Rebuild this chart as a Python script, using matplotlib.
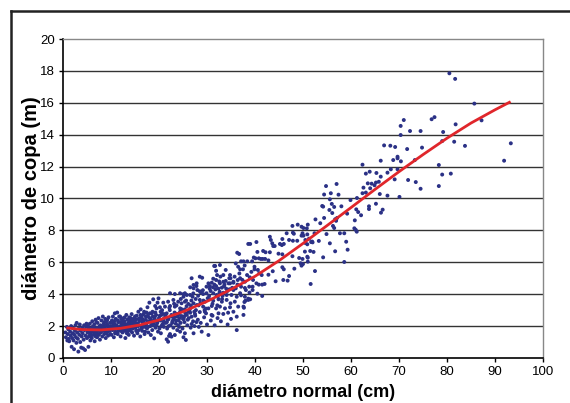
import matplotlib
matplotlib.use('Agg')
import matplotlib.pyplot as plt
from matplotlib.lines import Line2D

# diámetro normal (cm) / diámetro de copa (m)
dn_a = [0.5, 0.6, 0.8, 0.9, 1.0, 1.1, 1.2, 1.3, 1.5, 1.6, 1.7, 1.8, 1.9, 2.0, 2.1, 2.2, 2.3, 2.4, 2.5, 2.6,
        2.7, 2.8, 2.85, 3.0, 3.1, 3.2, 3.3, 3.4, 3.5, 3.6, 3.7, 3.8, 3.9, 4.0, 4.1, 4.2, 4.3, 4.4, 4.5, 4.6,
        4.7, 4.8, 4.9, 5.0]
dc_a = [1.6, 1.3, 1.95, 1.1, 1.5, 1.8, 1.2, 1.05, 1.65, 1.4, 2.0, 0.7, 1.25, 1.55, 1.85, 1.1, 0.55, 1.45, 1.7, 2.05,
        1.3, 0.95, 2.2, 1.6, 1.2, 0.4, 1.85, 1.45, 2.1, 1.0, 1.7, 0.65, 1.35, 1.9, 1.55, 0.6, 1.15, 2.05, 1.75, 0.5,
        1.4, 1.95, 2.15, 1.25]

dn_b = [5.1, 5.2, 5.3, 5.4, 5.5, 5.6, 5.7, 5.8, 5.9, 6.0, 6.1, 6.2, 6.3, 6.4, 6.5, 6.6, 6.7, 6.8, 6.9, 7.0,
        7.1, 7.2, 7.3, 7.4, 7.5, 7.6, 7.7, 7.8, 7.9, 8.0, 8.1, 8.2, 8.3, 8.4, 8.5, 8.6, 8.7, 8.8, 8.9, 9.0,
        9.1, 9.2, 9.3, 9.4, 9.5, 9.6, 9.7, 9.8, 9.9, 10.0, 5.5, 6.3, 7.0, 7.6, 8.2, 8.8, 9.4, 6.8, 8.6]
dc_b = [1.6, 2.0, 0.7, 1.35, 1.85, 2.15, 1.1, 1.5, 1.75, 1.25, 2.3, 1.65, 1.95, 1.45, 2.1, 1.05, 1.8, 2.4, 1.55, 1.9,
        1.3, 2.2, 1.7, 2.5, 1.45, 1.95, 1.15, 2.05, 1.6, 2.35, 1.85, 1.35, 2.6, 1.75, 2.15, 1.5, 1.95, 2.45, 1.25, 1.8,
        2.3, 1.6, 2.05, 1.4, 2.55, 1.9, 1.7, 2.2, 1.5, 2.0, 1.55, 1.7, 1.6, 1.8, 1.9, 1.65, 1.85, 1.35, 2.25]

dn_c = [10.1, 10.2, 10.3, 10.4, 10.5, 10.6, 10.7, 10.8, 10.9, 11.0, 11.1, 11.2, 11.3, 11.4, 11.5, 11.6, 11.7,
        11.8, 11.9, 12.0, 12.1, 12.2, 12.3, 12.4, 12.5, 12.6, 12.7, 12.8, 12.9, 13.0, 13.1, 13.2, 13.3, 13.4,
        13.5, 13.6, 13.7, 13.8, 13.9, 14.0, 14.1, 14.2, 14.3, 14.4, 14.5, 14.6, 14.7, 14.8, 14.9, 15.0,
        10.5, 11.3, 12.2, 13.0, 13.8, 14.6]
dc_c = [1.45, 2.35, 1.75, 2.6, 1.95, 1.3, 2.15, 2.8, 1.65, 2.45, 1.85, 2.05, 2.85, 1.5, 2.25, 1.75, 2.6,
        1.95, 2.6, 1.35, 2.15, 1.8, 2.4, 1.6, 2.0, 2.5, 1.7, 2.3, 1.9, 1.25, 2.1, 2.7, 1.55, 2.4,
        1.85, 2.2, 1.45, 2.55, 1.95, 2.35, 1.7, 2.0, 2.75, 1.6, 2.25, 1.85, 2.45, 1.4, 2.1, 2.6,
        2.05, 1.6, 2.25, 1.95, 1.75, 2.15]

dn_d = [15.1, 15.2, 15.35, 15.5, 15.6, 15.7, 15.8, 15.9, 16.0, 16.1, 16.2, 16.3, 16.4, 16.5, 16.6, 16.7, 16.8,
        16.9, 17.0, 17.1, 17.2, 17.3, 17.4, 17.5, 17.6, 17.7, 17.8, 17.9, 18.0, 18.1, 18.2, 18.3, 18.4, 18.5,
        18.6, 18.7, 18.8, 18.9, 19.0, 19.1, 19.2, 19.3, 19.4, 19.5, 19.6, 19.7, 19.8, 19.9, 20.0,
        16.5, 17.5, 18.5, 19.5]
dc_d = [1.9, 2.4, 2.65, 1.55, 2.15, 2.9, 1.75, 2.3, 2.5, 1.35, 3.05, 2.0, 2.6, 1.7, 2.25, 1.95, 2.75,
        2.9, 1.5, 1.65, 2.4, 2.1, 2.85, 1.85, 3.18, 2.3, 1.6, 2.55, 3.47, 2.8, 2.0, 1.44, 2.35, 2.8,
        1.75, 2.6, 3.68, 2.15, 1.23, 2.45, 3.26, 1.9, 2.7, 3.11, 2.25, 3.47, 1.65, 3.74, 2.5,
        2.45, 2.2, 2.1, 2.05]

dn_e = [20.1, 20.2, 20.3, 20.4, 20.5, 20.6, 20.7, 20.9, 21.0, 21.1, 21.25, 21.4, 21.6, 21.6, 21.7, 21.9, 21.9,
        22.0, 22.1, 22.3, 22.3, 22.3, 22.4, 22.6, 22.6, 22.8, 23.0, 23.0, 23.2, 23.3, 23.3, 23.3, 23.5, 23.7,
        23.8, 24.0, 24.1, 24.2, 24.4, 24.4, 24.4, 24.4, 24.5, 24.7, 24.7, 24.9, 25.0, 21.0, 22.0, 23.0, 24.0,
        20.5, 23.8]
dc_e = [1.85, 3.18, 2.35, 1.55, 2.7, 2.84, 2.1, 3.47, 1.95, 2.5, 3.22, 2.2, 1.17, 2.8, 1.85, 3.53, 1.02,
        2.45, 1.38, 4.06, 3.26, 1.5, 2.05, 2.7, 1.34, 2.3, 3.64, 1.9, 2.55, 4.01, 3.22, 1.44, 2.15, 2.76,
        1.75, 3.53, 2.35, 1.95, 1.65, 3.11, 2.9, 4.06, 2.2, 2.63, 3.43, 1.85, 2.45, 2.3, 2.0, 2.4, 2.05,
        2.0, 2.6]

dn_f = [25.1, 25.1, 25.1, 25.3, 25.4, 25.4, 25.4, 25.4, 25.5, 25.6, 25.8, 25.8, 25.9, 26.1, 26.2, 26.5, 26.5,
        26.5, 26.5, 26.6, 26.8, 26.8, 26.8, 27.0, 27.1, 27.2, 27.2, 27.2, 27.2, 27.4, 27.5, 27.7, 27.8, 27.85,
        27.9, 28.0, 28.1, 28.3, 28.5, 28.5, 28.5, 28.5, 28.7, 28.9, 29.0, 29.2, 29.2, 29.4, 29.6, 29.8, 29.9,
        29.9, 30.0, 26.0, 27.8, 29.5]
dc_f = [4.01, 1.3, 3.84, 2.25, 3.05, 4.06, 1.55, 3.53, 2.8, 1.13, 2.7, 3.95, 2.05, 3.39, 2.5, 3.11, 4.43,
        2.84, 3.95, 1.9, 2.59, 5.0, 2.13, 3.84, 2.3, 4.58, 4.37, 3.43, 1.55, 2.0, 2.76, 3.0, 4.51, 4.68,
        3.32, 4.26, 2.4, 1.95, 5.1, 4.18, 3.64, 2.88, 2.2, 1.65, 5.03, 4.01, 3.22, 2.55, 3.53, 2.8, 4.47,
        4.06, 2.1, 2.4, 2.25, 3.0]

dn_g = [30.3, 30.3, 30.3, 30.6, 30.6, 30.8, 30.95, 31.0, 31.0, 31.25, 31.3, 31.3, 31.3, 31.5, 31.6, 31.7, 31.9,
        31.9, 31.9, 31.9, 32.0, 32.1, 32.2, 32.4, 32.4, 32.4, 32.6, 32.7, 32.7, 32.7, 32.8, 32.9, 33.1, 33.1,
        33.4, 33.4, 33.4, 33.4, 33.75, 33.9, 33.9, 34.0, 34.1, 34.1, 34.3, 34.4, 34.5, 34.7, 34.8, 34.8, 34.8,
        34.9, 34.9, 35.0]
dc_g = [1.44, 4.68, 3.11, 4.51, 3.68, 2.35, 2.7, 4.72, 3.26, 4.43, 4.97, 4.06, 3.59, 5.77, 2.05, 5.77, 5.47,
        4.89, 4.51, 3.11, 3.95, 5.2, 2.5, 4.35, 3.68, 2.8, 4.06, 5.83, 4.68, 3.22, 5.1, 2.3, 4.41, 3.53,
        5.2, 4.78, 4.09, 2.76, 3.11, 5.52, 4.83, 4.35, 3.95, 3.64, 2.1, 2.84, 4.68, 4.31, 5.2, 4.68, 3.18,
        5.0, 3.43, 2.45]

dn_h = [35.1, 35.5, 35.5, 35.5, 35.5, 35.8, 36.0, 36.0, 36.2, 36.2, 36.2, 36.3, 36.4, 36.5, 36.5, 36.7, 36.9,
        36.9, 36.9, 37.1, 37.1, 37.1, 37.5, 37.6, 37.6, 37.6, 37.7, 37.8, 37.9, 37.9, 37.9, 38.0, 38.1, 38.4,
        38.6, 38.6, 38.6, 38.8, 38.9, 39.0, 39.0, 39.4, 39.5, 39.5, 39.6, 39.9, 39.9]
dc_h = [3.95, 4.72, 4.78, 4.26, 2.9, 3.53, 5.93, 4.37, 2.59, 3.84, 1.75, 6.6, 4.89, 5.72, 3.22, 6.52, 5.56,
        5.0, 4.06, 6.06, 4.47, 3.93, 5.56, 6.06, 3.22, 2.7, 3.15, 3.51, 4.78, 4.39, 3.84, 3.59, 4.26, 6.06,
        7.15, 3.72, 3.64, 4.47, 5.06, 3.68, 7.15, 6.06, 4.47, 4.26, 4.89, 5.72, 5.56]

dn_i = [40.1, 40.3, 40.3, 40.5, 40.5, 40.6, 40.8, 40.8, 40.9, 41.2, 41.4, 41.5, 41.5, 41.6, 41.7, 42.0, 42.1,
        42.2, 42.8, 42.8, 43.1, 43.1, 43.3, 43.6, 43.7, 43.8, 44.1, 44.3, 44.9, 45.2, 45.6, 45.7, 45.7, 45.7,
        45.9, 46.0, 46.0, 46.6, 46.8, 47.1, 47.1, 47.8, 47.8, 47.9, 47.9, 48.1, 48.2, 48.8, 48.9, 49.2, 49.5,
        49.7, 49.7, 49.7, 49.9, 49.9, 50.0]
dc_i = [6.25, 7.27, 4.68, 6.65, 4.03, 5.52, 6.25, 4.6, 5.31, 6.21, 5.2, 4.6, 3.89, 6.21, 6.71, 4.64, 6.21,
        6.63, 6.12, 5.22, 7.6, 6.63, 7.4, 7.19, 5.44, 7.02, 7.02, 4.81, 6.54, 7.15, 7.08, 7.46, 6.5, 5.69,
        4.89, 7.15, 5.56, 7.82, 4.85, 7.4, 5.14, 8.28, 6.38, 7.35, 7.86, 7.79, 5.6, 7.35, 8.36, 6.27, 5.94,
        8.23, 7.67, 5.79, 7.82, 6.21, 5.89]

dn_j = [50.1, 50.1, 50.4, 50.5, 50.5, 50.8, 50.9, 50.9, 50.9, 51.0, 51.0, 51.0, 51.25, 51.5, 51.6, 51.7, 51.9,
        52.0, 52.2, 52.4, 52.5, 52.6, 53.3, 53.6, 54.0, 54.2, 54.2, 54.4, 54.4, 54.8, 54.9, 55.5, 55.6, 55.6,
        55.8, 56.0, 56.1, 56.25, 56.5, 56.5, 56.7, 56.7, 56.9, 57.0, 57.1, 57.4, 57.7, 58.0, 58.6, 58.6, 59.0,
        59.2, 59.3, 59.9]
dc_j = [8.15, 7.67, 6.67, 7.21, 7.4, 8.13, 7.75, 7.13, 6.35, 8.36, 6.04, 6.29, 7.48, 6.71, 4.64, 7.27, 7.3,
        7.25, 6.65, 7.82, 5.45, 8.69, 7.34, 8.45, 9.53, 9.49, 6.31, 10.25, 8.78, 10.78, 7.77, 9.28, 9.95, 7.19,
        10.33, 9.66, 9.09, 8.28, 9.47, 8.15, 8.7, 6.69, 8.6, 10.91, 8.78, 10.24, 7.82, 9.51, 7.82, 6.02, 7.29,
        9.05, 6.79, 9.9]

dn_k = [60.7, 60.8, 61.0, 61.1, 61.2, 61.25, 61.5, 62.1, 62.4, 62.4, 62.6, 63.1, 63.1, 63.5, 63.75, 63.75, 63.9,
        64.0, 64.3, 64.9, 65.2, 65.2, 65.3, 65.8, 66.0, 66.2, 66.2, 66.25, 66.6, 66.9, 67.6, 67.6, 68.2, 68.3,
        68.8, 69.1, 69.2, 69.7, 69.7, 69.7, 70.1, 70.35, 70.35, 70.4, 71.0, 71.7, 71.9, 72.3, 73.3, 73.5, 74.5,
        74.5, 74.8, 76.8, 77.4, 78.3, 78.3, 79.0, 79.0, 79.2, 80.5, 80.8, 81.5, 81.7, 81.8, 83.75, 85.7, 87.2,
        91.9, 93.3]
dc_k = [8.13, 8.63, 8.03, 9.32, 7.92, 10.03, 9.15, 8.95, 12.12, 10.33, 10.68, 11.56, 10.37, 10.95, 9.51, 9.34, 11.68,
        10.64, 10.93, 10.83, 11.0, 9.67, 11.6, 11.05, 10.28, 12.37, 11.37, 9.11, 9.3, 13.33, 11.62, 10.18, 13.31, 11.83,
        12.41, 11.2, 13.23, 12.62, 12.52, 11.83, 10.1, 14.55, 13.98, 12.33, 14.92, 13.1, 11.16, 14.23, 12.41, 11.03, 14.23,
        10.61, 13.19, 14.97, 15.1, 12.1, 10.78, 13.6, 11.5, 14.17, 17.85, 11.56, 13.56, 17.5, 14.65, 13.3, 15.95, 14.9,
        12.37, 13.46]

# puntos extra de la nube densa (5-40 cm)
dn_m = [5.35, 5.85, 6.45, 6.95, 7.25, 7.85, 8.45, 8.95, 9.25, 9.75, 10.35, 10.85, 11.45, 11.95, 12.35, 12.85,
        13.45, 13.95, 14.25, 14.75, 15.25, 15.75, 16.35, 16.85, 17.25, 17.75, 18.25, 18.75, 19.25, 19.75, 20.35,
        20.85, 21.35, 21.85, 22.25, 22.75, 23.25, 23.65, 24.25, 24.75, 25.25, 25.75, 26.35, 26.75, 27.35, 27.65,
        28.25, 28.75, 29.25, 29.75, 30.45, 30.75, 31.15, 31.75, 32.25, 32.55, 33.25, 33.65, 34.25, 34.65, 35.25,
        35.75, 36.35, 36.75, 37.35, 37.85, 38.35, 38.85, 39.25, 39.75]
dc_m = [1.9, 1.4, 1.75, 2.25, 1.5, 1.85, 2.0, 1.55, 2.4, 1.8, 2.2, 1.55, 2.35, 1.7, 2.05, 2.55,
        1.65, 2.15, 1.9, 2.3, 1.7, 2.45, 1.85, 2.2, 2.6, 1.95, 2.45, 2.05, 2.85, 2.35, 2.9,
        2.15, 2.65, 2.4, 3.0, 2.2, 2.85, 3.3, 2.5, 3.05, 2.6, 3.25, 2.95, 3.6, 2.9, 3.7,
        3.3, 4.1, 3.6, 3.1, 3.9, 4.2, 3.4, 4.3, 3.85, 4.8, 3.9, 4.6, 4.2, 5.0, 4.4,
        5.1, 4.6, 5.3, 4.9, 5.8, 5.2, 4.1, 5.4, 6.3]

dn_n = [5.65, 6.15, 6.65, 7.15, 7.65, 8.15, 8.65, 9.15, 9.65, 10.15, 10.65, 11.15, 11.65, 12.15, 12.65, 13.15,
        13.65, 14.15, 14.65, 15.15, 15.65, 16.15, 16.65, 17.15, 17.65, 18.15, 18.65, 19.15, 19.65, 20.15, 20.65,
        21.15, 21.65, 22.15, 22.65, 23.15, 23.55, 24.15, 24.55, 25.15, 25.65, 26.15, 26.65, 27.15, 27.55, 28.15,
        28.65, 29.15, 29.55, 30.15, 30.55, 31.15, 31.55, 32.15, 32.65, 33.15, 33.55]
dc_n = [1.7, 1.95, 1.6, 1.85, 2.0, 1.7, 1.85, 2.1, 1.95, 1.85, 2.3, 2.0, 1.9, 2.45, 2.2, 1.75,
        2.05, 2.5, 1.95, 2.2, 2.0, 2.7, 2.35, 1.95, 2.65, 2.3, 2.9, 2.6, 2.2, 2.65, 3.0,
        2.75, 2.25, 3.15, 2.6, 3.4, 2.35, 2.75, 3.7, 2.45, 3.6, 2.9, 3.3, 4.05, 2.65, 3.9,
        3.45, 4.25, 2.9, 3.75, 4.35, 2.65, 4.6, 3.3, 4.15, 3.7, 4.5]

# curva ajustada
curva_x = [1, 4, 8, 12, 16, 20, 25, 30, 35, 40, 45, 50, 55, 60, 65, 70, 75, 80, 85, 90, 93]
curva_y = [1.88, 1.78, 1.76, 1.86, 2.07, 2.38, 2.9, 3.55, 4.3, 5.12, 6.1, 7.18, 8.3, 9.43, 10.57, 11.68, 12.75,
           13.78, 14.73, 15.56, 16.03]

x_ticks = list(range(0, 101, 10))
y_ticks = list(range(0, 21, 2))


def main():
    plt.rcParams['font.family'] = ['Liberation Sans', 'DejaVu Sans']
    fig = plt.figure(figsize=(5.7, 4.03), dpi=100)
    ax = fig.add_axes([0.1105, 0.1117, 0.8421, 0.7915])

    dn = dn_a + dn_b + dn_c + dn_d + dn_e + dn_f + dn_g + dn_h + dn_i + dn_j + dn_k + dn_m + dn_n
    dc = dc_a + dc_b + dc_c + dc_d + dc_e + dc_f + dc_g + dc_h + dc_i + dc_j + dc_k + dc_m + dc_n

    for y in y_ticks[1:-1]:
        ax.axhline(y, color='#333333', lw=1.0, zorder=1)
    ax.scatter(dn, dc, s=8, color='#2b3186', edgecolors='none', zorder=2)
    ax.plot(curva_x, curva_y, color='#e0262b', lw=2.0, zorder=3, solid_joinstyle='round')

    ax.set_xlim(0, 100)
    ax.set_ylim(0, 20)
    ax.set_xticks(x_ticks)
    ax.set_yticks(y_ticks)
    ax.tick_params(labelsize=9.5, length=3, width=1, color='black', pad=3)
    for side in ['top', 'right']:
        ax.spines[side].set_color('#888888')
        ax.spines[side].set_linewidth(1)
    for side in ['left', 'bottom']:
        ax.spines[side].set_color('black')
        ax.spines[side].set_linewidth(1.2)

    ax.set_xlabel('diámetro normal (cm)', fontsize=13, fontweight='bold', labelpad=4)
    ax.set_ylabel('diámetro de copa (m)', fontsize=14.5, fontweight='bold', labelpad=-1)

    # marco exterior
    fig.add_artist(Line2D([11 / 570, 11 / 570], [0, 1 - 11 / 403], color='#222222', lw=1.8))
    fig.add_artist(Line2D([11 / 570, 1], [1 - 11 / 403, 1 - 11 / 403], color='#222222', lw=1.8))

    fig.savefig('out.png', dpi=100)


if __name__ == '__main__':
    main()
